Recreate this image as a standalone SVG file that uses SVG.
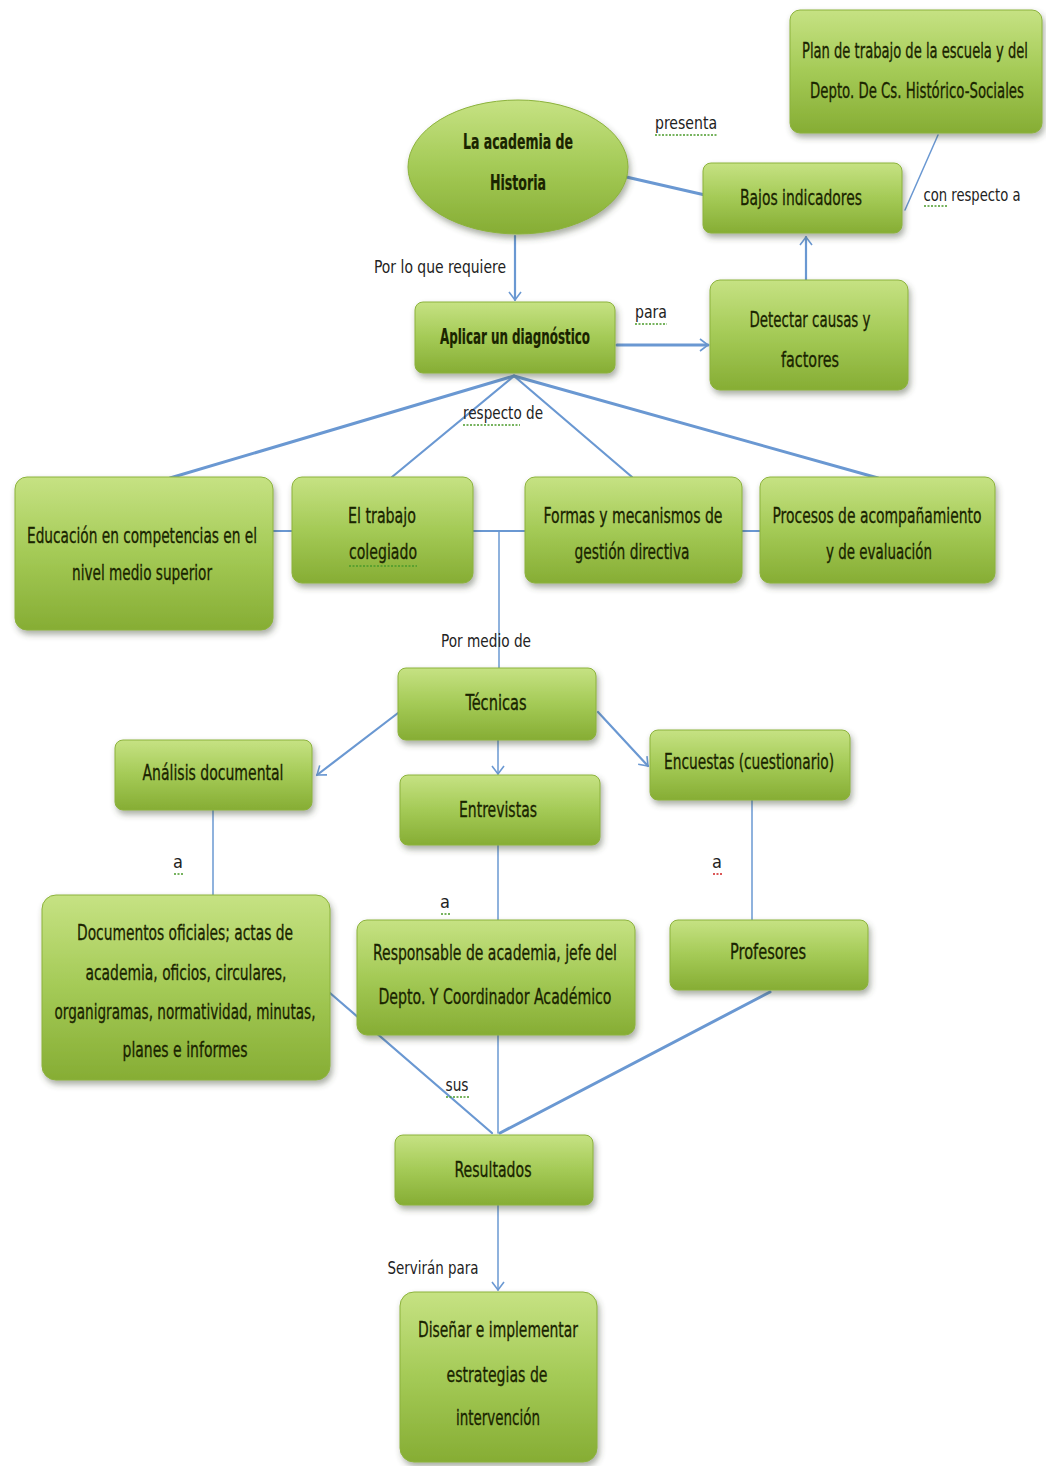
<svg xmlns="http://www.w3.org/2000/svg" width="1046" height="1466" viewBox="0 0 1046 1466">
<style>
.t{font-family:"Liberation Sans Narrow","DejaVu Sans Condensed","Liberation Sans",sans-serif;font-size:21px;fill:#1a2400;stroke:#1a2400;stroke-width:0.3;text-anchor:middle}
.b{font-weight:bold;stroke-width:0.2}
.l{font-family:"Liberation Sans Narrow","DejaVu Sans Condensed","Liberation Sans",sans-serif;font-size:18px;fill:#222;text-anchor:middle}
.box{fill:url(#g);stroke:#8cb23c;stroke-width:1;filter:url(#sh)}
.c{stroke:#6a98d2;fill:none;stroke-linecap:round}
.w1{stroke-width:1.5}
.w2{stroke-width:2.2}
.w3{stroke-width:3}
.a{marker-end:url(#ar)}
.sq{stroke:#4a9a2a;stroke-width:1.3;fill:none;stroke-dasharray:2 1.5}
</style>
<defs>
<linearGradient id="g" x1="0" y1="0" x2="0" y2="1">
<stop offset="0" stop-color="#c6e283"/>
<stop offset="0.5" stop-color="#a4ca56"/>
<stop offset="1" stop-color="#86ad34"/>
</linearGradient>
<filter id="sh" x="-10%" y="-10%" width="125%" height="135%">
<feDropShadow dx="2" dy="4" stdDeviation="3" flood-color="#404a30" flood-opacity="0.45"/>
</filter>
<marker id="ar" markerUnits="userSpaceOnUse" markerWidth="12" markerHeight="14" refX="9" refY="7" orient="auto">
<path d="M1,1 L9,7 L1,13" fill="none" stroke="#6a98d2" stroke-width="1.6"/>
</marker>
</defs>
<rect width="1046" height="1466" fill="#ffffff"/>

<g id="connectors">
<line class="c w3" x1="622" y1="176" x2="705" y2="195"/>
<line class="c w1" x1="938" y1="135" x2="905" y2="210"/>
<line class="c w2 a" x1="515" y1="236" x2="515" y2="300"/>
<line class="c w3 a" x1="617" y1="345" x2="708" y2="345"/>
<line class="c w2 a" x1="806" y1="280" x2="806" y2="237"/>
<line class="c w3" x1="514" y1="376" x2="170" y2="478"/>
<line class="c w2" x1="514" y1="376" x2="392" y2="477"/>
<line class="c w2" x1="514" y1="376" x2="632" y2="477"/>
<line class="c w3" x1="514" y1="376" x2="878" y2="478"/>
<line class="c w2" x1="273" y1="531" x2="760" y2="531"/>
<line class="c w1" x1="499" y1="531" x2="499" y2="668"/>
<line class="c w2 a" x1="398" y1="713" x2="317" y2="775"/>
<line class="c w1 a" x1="498" y1="740" x2="498" y2="774"/>
<line class="c w2 a" x1="598" y1="712" x2="648" y2="766"/>
<line class="c w1" x1="213" y1="810" x2="213" y2="895"/>
<line class="c w1" x1="498" y1="845" x2="498" y2="920"/>
<line class="c w1" x1="752" y1="800" x2="752" y2="920"/>
<line class="c w2" x1="330" y1="993" x2="492" y2="1133"/>
<line class="c w1" x1="498" y1="1035" x2="498" y2="1133"/>
<line class="c w3" x1="770" y1="992" x2="500" y2="1133"/>
<line class="c w1 a" x1="498" y1="1205" x2="498" y2="1290"/>
</g>

<g id="labels">
<text class="l" x="686" y="129" textLength="62" lengthAdjust="spacingAndGlyphs">presenta</text>
<path class="sq" d="M655,135 H717"/>
<text class="l" x="972" y="201" textLength="97" lengthAdjust="spacingAndGlyphs">con respecto a</text>
<path class="sq" d="M924,206 H948"/>
<text class="l" x="440" y="273" textLength="132" lengthAdjust="spacingAndGlyphs">Por lo que requiere</text>
<text class="l" x="651" y="318" textLength="32" lengthAdjust="spacingAndGlyphs">para</text>
<path class="sq" d="M635,324 H667"/>
<text class="l" x="503" y="419" textLength="80" lengthAdjust="spacingAndGlyphs">respecto de</text>
<path class="sq" d="M463,425 H520"/>
<text class="l" x="486" y="647" textLength="90" lengthAdjust="spacingAndGlyphs">Por medio de</text>
<text class="l" x="178" y="868">a</text>
<path class="sq" d="M174,874 H183"/>
<text class="l" x="445" y="908">a</text>
<path class="sq" d="M441,914 H450"/>
<text class="l" x="717" y="868">a</text>
<path class="sq" d="M713,874 H722" style="stroke:#d02020"/>
<text class="l" x="457" y="1091" textLength="23" lengthAdjust="spacingAndGlyphs">sus</text>
<path class="sq" d="M446,1097 H469"/>
<text class="l" x="433" y="1274" textLength="91" lengthAdjust="spacingAndGlyphs">Servirán para</text>
</g>

<g id="plan">
<rect class="box" x="790" y="10" width="252" height="123" rx="10"/>
<text class="t" x="915" y="58" textLength="226" lengthAdjust="spacingAndGlyphs">Plan de trabajo de la escuela  y del</text>
<text class="t" x="917" y="98" textLength="214" lengthAdjust="spacingAndGlyphs">Depto. De Cs. Histórico-Sociales</text>
</g>

<g id="academia">
<ellipse class="box" cx="518" cy="167" rx="110" ry="67"/>
<text class="t b" x="518" y="149" textLength="110" lengthAdjust="spacingAndGlyphs">La academia de</text>
<text class="t b" x="518" y="190" textLength="56" lengthAdjust="spacingAndGlyphs">Historia</text>
</g>

<g id="bajos">
<rect class="box" x="703" y="163" width="199" height="70" rx="8"/>
<text class="t" x="801" y="205" textLength="122" lengthAdjust="spacingAndGlyphs">Bajos indicadores</text>
</g>

<g id="aplicar">
<rect class="box" x="415" y="302" width="200" height="71" rx="8"/>
<text class="t b" x="515" y="344" textLength="150" lengthAdjust="spacingAndGlyphs">Aplicar un diagnóstico</text>
</g>

<g id="detectar">
<rect class="box" x="710" y="280" width="198" height="110" rx="10"/>
<text class="t" x="810" y="327" textLength="121" lengthAdjust="spacingAndGlyphs">Detectar causas y</text>
<text class="t" x="810" y="367" textLength="58" lengthAdjust="spacingAndGlyphs">factores</text>
</g>

<g id="educacion">
<rect class="box" x="15" y="477" width="258" height="153" rx="12"/>
<text class="t" x="142" y="543" textLength="230" lengthAdjust="spacingAndGlyphs">Educación en competencias en el</text>
<text class="t" x="142" y="580" textLength="140" lengthAdjust="spacingAndGlyphs">nivel medio superior</text>
</g>

<g id="trabajo">
<rect class="box" x="292" y="477" width="181" height="106" rx="10"/>
<text class="t" x="382" y="523" textLength="68" lengthAdjust="spacingAndGlyphs">El trabajo</text>
<text class="t" x="383" y="559" textLength="68" lengthAdjust="spacingAndGlyphs">colegiado</text>
<path class="sq" d="M349,566 H417"/>
</g>

<g id="formas">
<rect class="box" x="525" y="477" width="217" height="106" rx="10"/>
<text class="t" x="633" y="523" textLength="179" lengthAdjust="spacingAndGlyphs">Formas y mecanismos de</text>
<text class="t" x="632" y="559" textLength="115" lengthAdjust="spacingAndGlyphs">gestión directiva</text>
</g>

<g id="procesos">
<rect class="box" x="760" y="477" width="235" height="106" rx="10"/>
<text class="t" x="877" y="523" textLength="209" lengthAdjust="spacingAndGlyphs">Procesos de acompañamiento</text>
<text class="t" x="879" y="559" textLength="106" lengthAdjust="spacingAndGlyphs">y de evaluación</text>
</g>

<g id="tecnicas">
<rect class="box" x="398" y="668" width="198" height="72" rx="8"/>
<text class="t" x="496" y="710" textLength="61" lengthAdjust="spacingAndGlyphs">Técnicas</text>
</g>

<g id="analisis">
<rect class="box" x="115" y="740" width="197" height="70" rx="8"/>
<text class="t" x="213" y="780" textLength="141" lengthAdjust="spacingAndGlyphs">Análisis documental</text>
</g>

<g id="entrevistas">
<rect class="box" x="400" y="775" width="200" height="70" rx="8"/>
<text class="t" x="498" y="817" textLength="78" lengthAdjust="spacingAndGlyphs">Entrevistas</text>
</g>

<g id="encuestas">
<rect class="box" x="650" y="730" width="200" height="70" rx="8"/>
<text class="t" x="749" y="769" textLength="170" lengthAdjust="spacingAndGlyphs">Encuestas (cuestionario)</text>
</g>

<g id="documentos">
<rect class="box" x="42" y="895" width="288" height="185" rx="14"/>
<text class="t" x="185" y="940" textLength="216" lengthAdjust="spacingAndGlyphs">Documentos oficiales; actas de</text>
<text class="t" x="186" y="980" textLength="201" lengthAdjust="spacingAndGlyphs">academia,  oficios, circulares,</text>
<text class="t" x="185" y="1019" textLength="261" lengthAdjust="spacingAndGlyphs">organigramas, normatividad, minutas,</text>
<text class="t" x="185" y="1057" textLength="125" lengthAdjust="spacingAndGlyphs">planes e informes</text>
</g>

<g id="responsable">
<rect class="box" x="357" y="920" width="278" height="115" rx="10"/>
<text class="t" x="495" y="960" textLength="244" lengthAdjust="spacingAndGlyphs">Responsable de academia, jefe del</text>
<text class="t" x="495" y="1004" textLength="233" lengthAdjust="spacingAndGlyphs">Depto.  Y Coordinador Académico</text>
</g>

<g id="profesores">
<rect class="box" x="670" y="920" width="198" height="70" rx="8"/>
<text class="t" x="768" y="959" textLength="76" lengthAdjust="spacingAndGlyphs">Profesores</text>
</g>

<g id="resultados">
<rect class="box" x="395" y="1135" width="198" height="70" rx="8"/>
<text class="t" x="493" y="1177" textLength="77" lengthAdjust="spacingAndGlyphs">Resultados</text>
</g>

<g id="disenar">
<rect class="box" x="400" y="1292" width="197" height="170" rx="14"/>
<text class="t" x="498" y="1337" textLength="160" lengthAdjust="spacingAndGlyphs">Diseñar e implementar</text>
<text class="t" x="497" y="1382" textLength="101" lengthAdjust="spacingAndGlyphs">estrategias de</text>
<text class="t" x="498" y="1425" textLength="84" lengthAdjust="spacingAndGlyphs">intervención</text>
</g>
</svg>
